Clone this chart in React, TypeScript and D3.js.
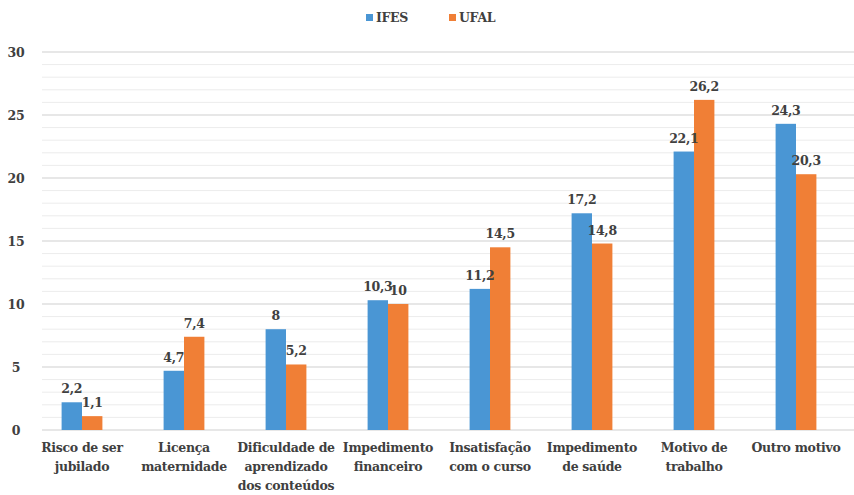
import React from "react";
import * as d3 from "d3";

const categories: string[][] = [
  ["Risco de ser", "jubilado"],
  ["Licença", "maternidade"],
  ["Dificuldade de", "aprendizado", "dos conteúdos"],
  ["Impedimento", "financeiro"],
  ["Insatisfação", "com o curso"],
  ["Impedimento", "de saúde"],
  ["Motivo de", "trabalho"],
  ["Outro motivo"],
];
const ifes: number[] = [2.2, 4.7, 8, 10.3, 11.2, 17.2, 22.1, 24.3];
const ufal: number[] = [1.1, 7.4, 5.2, 10, 14.5, 14.8, 26.2, 20.3];
const seriesNames = ["IFES", "UFAL"];
const colors = ["#4a96d4", "#f07f36"];
const yTicks = [0, 5, 10, 15, 20, 25, 30];
const minorTicks = d3.range(0, 31, 1);

const W = 854;
const H = 495;
const font = "DejaVu Serif";

const fmt = (v: number) => String(v).replace(".", ",");

export default function App() {
  const y = d3.scaleLinear().domain([0, 30]).range([430, 52]);
  const x = d3
    .scaleBand<number>()
    .domain(d3.range(categories.length))
    .range([31, 847])
    .paddingInner(0.6)
    .paddingOuter(0.3);
  const x1 = d3.scaleBand<number>().domain([0, 1]).range([0, x.bandwidth()]);
  const data = [ifes, ufal];
  const ts: React.CSSProperties = { fontFamily: font, fontWeight: 700, fontSize: 12.5, letterSpacing: -0.3 };
  return (
    <svg
      width={W}
      height={H}
      style={{ position: "absolute", left: 0, top: 0, background: "#fff" }}
    >
      {minorTicks.map((t) => (
        <line
          key={"m" + t}
          x1={42}
          x2={W}
          y1={y(t)}
          y2={y(t)}
          stroke={t % 5 === 0 ? "#cfcfcf" : "#ececec"}
          strokeWidth={1}
        />
      ))}
      {yTicks.map((t) => (
        <text key={"t" + t} x={16} y={y(t) + 5} textAnchor="middle" style={ts} fill="#404040">
          {t}
        </text>
      ))}
      {data.map((s, si) =>
        s.map((v, i) => (
          <rect
            key={`b${si}-${i}`}
            x={(x(i) as number) + (x1(si) as number)}
            y={y(v)}
            width={x1.bandwidth()}
            height={y(0) - y(v)}
            fill={colors[si]}
          />
        ))
      )}
      {data.map((s, si) =>
        s.map((v, i) => (
          <text
            key={`l${si}-${i}`}
            x={(x(i) as number) + (x1(si) as number) + x1.bandwidth() / 2}
            y={y(v) - 9}
            textAnchor="middle"
            style={ts}
            fill="#404040"
          >
            {fmt(v)}
          </text>
        ))
      )}
      {categories.map((lines, i) => (
        <text
          key={"c" + i}
          x={(x(i) as number) + x.bandwidth() / 2}
          y={452}
          textAnchor="middle"
          style={ts}
          fill="#404040"
        >
          {lines.map((ln, j) => (
            <tspan key={j} x={(x(i) as number) + x.bandwidth() / 2} dy={j === 0 ? 0 : 19}>
              {ln}
            </tspan>
          ))}
        </text>
      ))}
      {seriesNames.map((n, si) => {
        const lx = [366, 449][si];
        return (
          <g key={n}>
            <rect x={lx} y={14} width={7} height={7} fill={colors[si]} />
            <text x={lx + 10} y={22} style={ts} fill="#404040">
              {n}
            </text>
          </g>
        );
      })}
    </svg>
  );
}
